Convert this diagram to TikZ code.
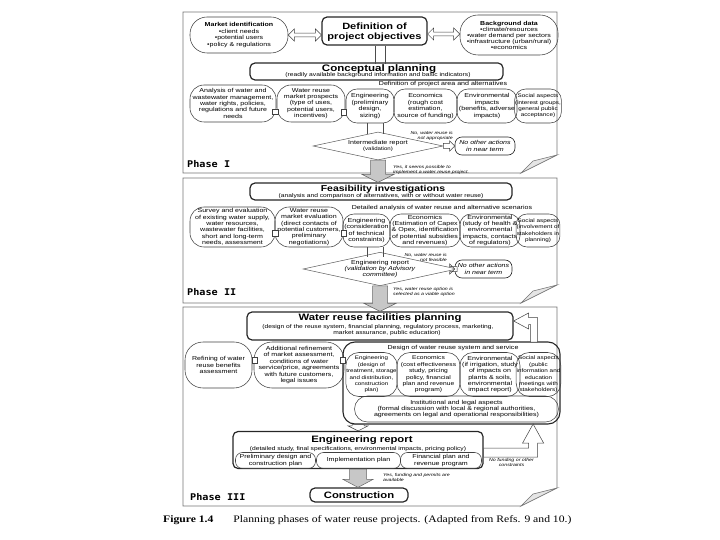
\documentclass[tikz,border=0pt]{standalone}
\usepackage{fontspec}
\setmainfont{Liberation Sans}[FakeStretch=1.22]
\newfontfamily\phasefont{DejaVu Sans Mono}[FakeStretch=1.1]
\newfontfamily\capfont{Liberation Serif}[FakeStretch=1.17]
\usetikzlibrary{shapes.geometric,calc}
\newcommand\tsm{\fontsize{5.8}{6.4}\selectfont}
\newcommand\tsoc{\fontsize{5.2}{6.4}\selectfont}
\newcommand\tsub{\fontsize{5.5}{6.2}\selectfont}
\newcommand\ttiny{\fontsize{4.3}{5}\selectfont\itshape}
\newcommand\ttl[1]{\fontsize{#1}{#1}\selectfont\bfseries}
% vertical (downward) block arrow: style, from, to, shaft half, head half, head length
\newcommand\vblock[6]{%
 \draw[#1] let \p1=(#2), \p2=(#3) in
  (\x1-#4,\y1) -- (\x1-#4,\y2+#6) -- (\x1-#5,\y2+#6) -- (\x1,\y2) -- (\x1+#5,\y2+#6) -- (\x1+#4,\y2+#6) -- (\x1+#4,\y1) -- cycle;}
% horizontal (rightward) block arrow
\newcommand\hblock[6]{%
 \draw[#1] let \p1=(#2), \p2=(#3) in
  (\x1,\y1+#4) -- (\x2-#6,\y1+#4) -- (\x2-#6,\y1+#5) -- (\x2,\y1) -- (\x2-#6,\y1-#5) -- (\x2-#6,\y1-#4) -- (\x1,\y1-#4) -- cycle;}
% horizontal double-headed block arrow
\newcommand\hdouble[6]{%
 \draw[#1] let \p1=(#2), \p2=(#3) in
  (\x1,\y1) -- (\x1+#6,\y1+#5) -- (\x1+#6,\y1+#4) -- (\x2-#6,\y1+#4) -- (\x2-#6,\y1+#5) -- (\x2,\y1) -- (\x2-#6,\y1-#5) -- (\x2-#6,\y1-#4) -- (\x1+#6,\y1-#4) -- (\x1+#6,\y1-#5) -- cycle;}
% phase panel with turned-up corner: top, bottom
\newcommand\panelbox[2]{%
 \draw[panel] (183,#1) -- (557,#1) -- (557,#2-18) -- (521,#2) -- (183,#2) -- cycle;
 \draw[panel, fill=black!10] (557,#2-18) -- (521,#2) -- (533,#2-12) -- cycle;}
\tikzset{
 panel/.style={draw=black!55, line width=0.6bp},
 mbox/.style={draw=black!85, line width=1.2bp, rounded corners=5bp, inner sep=0},
 ov/.style={draw=black!75, line width=0.55bp, rounded corners=11bp, inner sep=0.5bp, align=center, font=\tsm},
 sqr/.style={draw=black!75, line width=0.5bp, fill=white, minimum size=5.5bp, inner sep=0},
 dia/.style={diamond, aspect=4.6, draw=black!65, line width=0.5bp, inner sep=0, align=center, font=\tsm},
 noact/.style={draw=black!85, line width=0.6bp, rounded corners=7bp, align=center, font=\tsm\itshape, inner sep=0},
 lbl/.style={font=\ttiny, inner sep=0},
 gblk/.style={draw=black!60, line width=0.5bp, fill=black!22},
 hblk/.style={draw=black!75, line width=0.5bp, fill=white},
 conn/.style={draw=black!70, line width=0.5bp},
 phase/.style={font=\phasefont\bfseries\fontsize{9.3}{10}\selectfont, anchor=base west, inner sep=0},
 ttext/.style={anchor=base, inner sep=0},
}
\begin{document}
\begin{tikzpicture}[x=1bp,y=-1bp]
\useasboundingbox (0,0) rectangle (720,540);
\panelbox{12}{173}
\panelbox{178}{303}
\panelbox{307}{506}

% ================= Phase I =================
\node[ov, rounded corners=17bp, minimum width=98bp, minimum height=36bp] (market) at (239,35)
 {{\bfseries Market identification}\\•client needs\\•potential users\\•policy \& regulations};
\node[mbox, minimum width=105bp, minimum height=28bp] (def) at (374.5,31) {};
\node[ttext, font=\ttl{9.1}] (defA) at (374.5,30) {Definition of};
\node[ttext, font=\ttl{9.1}] (defB) at (374.5,40) {project objectives};
\node[ov, rounded corners=18bp, minimum width=98bp, minimum height=40bp, font=\fontsize{5.8}{6}\selectfont] (bg) at (509,35)
 {{\bfseries Background data}\\•climate/resources\\•water demand per sectors\\•infrastructure (urban/rural)\\•economics};
\hdouble{hblk}{market.east}{def.west}{1.8bp}{6bp}{6bp}
\hdouble{hblk}{[yshift=-3bp]def.east}{bg.west}{1.8bp}{6bp}{6bp}

\node[mbox, minimum width=253bp, minimum height=17bp] (concept) at (376.5,71.5) {};
\node[ttext, font=\ttl{9.5}] (conceptT) at (379,71.5) {Conceptual planning};
\node[ttext, font=\tsub] (conceptS) at (378,77) {(readily available background information and basic indicators)};
\draw[conn] ([xshift=0.5bp]def.south) -- ++(0,18);
\draw[conn] ([xshift=10.5bp]def.south) -- ++(0,18);

\node[ttext, font=\tsm] (areaT) at (443,86) {Definition of project area and alternatives};

\node[ov, minimum width=86bp, minimum height=37bp, rounded corners=14bp] (ana) at (233,103.5)
 {Analysis of water and\\wastewater management,\\water rights, policies,\\regulations and future\\needs};
\node[ov, minimum width=68bp, minimum height=37bp, rounded corners=14bp] (wrm) at (311,103.5)
 {Water reuse\\market prospects\\(type of uses,\\potential users,\\incentives)};
\node[ov, minimum width=48bp, minimum height=34bp] (eng1) at (370,106)
 {Engineering\\(preliminary\\design,\\sizing)};
\node[ov, minimum width=63bp, minimum height=34bp] (eco1) at (425.5,106)
 {Economics\\(rough cost\\estimation,\\source of funding)};
\node[ov, minimum width=60bp, minimum height=34bp] (env1) at (487,106)
 {Environmental\\impacts\\(benefits, adverse\\impacts)};
\node[ov, minimum width=42bp, minimum height=34bp, font=\tsoc] (soc1) at (538,106)
 {Social aspects\\(interest groups,\\general public\\acceptance)};
\node[sqr] (sq1a) at (275,112) {};
\node[sqr] (sq1b) at (343.5,112.5) {};

\node[dia, minimum width=130bp, minimum height=28bp] (ir) at (378,146)
 {Intermediate report\\{\fontsize{5}{6}\selectfont (validation)}};
\draw[conn] ([xshift=-3bp]eng1.south) -- ++(0,11);
\draw[conn] ([xshift=13bp]eng1.south) -- ++(0,11);
\node[noact, minimum width=60bp, minimum height=18bp] (no1) at (485,146) {No other actions\\in near term};
\hblock{hblk}{ir.east}{no1.west}{2.5bp}{5bp}{5bp}
\node[lbl, align=right, anchor=east] (nolbl1) at (453,135.5) {No, water reuse is\\not appropriate};
\node[lbl, align=left, anchor=west] (yeslbl1) at (393,170) {Yes, it seems possible to\\implement a water reuse project.};
\node[phase] (ph1) at (187,168) {Phase I};

% ================= Phase II =================
\node[mbox, minimum width=262bp, minimum height=17bp] (feas) at (381,191.5) {};
\node[ttext, font=\ttl{8.6}] (feasT) at (383,191.8) {Feasibility investigations};
\node[ttext, font=\tsub] (feasS) at (381,197.7) {(analysis and comparison of alternatives, with or without water reuse)};
\vblock{gblk}{ir.south}{feas.north}{7.5bp}{16bp}{8bp}

\node[ttext, font=\tsm] (detT) at (442,210) {Detailed analysis of water reuse and alternative scenarios};
\node[ov, minimum width=85bp, minimum height=40bp, rounded corners=14bp] (sur) at (232.5,227)
 {Survey and evaluation\\of existing water supply,\\water resources,\\wastewater facilities,\\short and long-term\\needs, assessment};
\node[ov, minimum width=68bp, minimum height=40bp, rounded corners=14bp] (wre) at (309,227)
 {Water reuse\\market evaluation\\(direct contacts of\\potential customers,\\preliminary\\negotiations)};
\node[ov, minimum width=47bp, minimum height=33bp] (eng2) at (366.5,230.5)
 {Engineering\\(consideration\\of technical\\constraints)};
\node[ov, minimum width=70bp, minimum height=33bp] (eco2) at (425,230.5)
 {Economics\\(Estimation of Capex\\\& Opex, identification\\of potential subsidies\\and revenues)};
\node[ov, minimum width=60bp, minimum height=33bp] (env2) at (490,230.5)
 {Environmental\\(study of health \&\\environmental\\impacts, contacts\\of regulators)};
\node[ov, minimum width=40bp, minimum height=33bp, font=\tsoc] (soc2) at (538,230.5)
 {Social aspects\\(involvement of\\stakeholders in\\planning)};
\node[sqr] (sq2a) at (275,233.5) {};
\node[sqr] (sq2b) at (343.5,233.5) {};

\node[dia, minimum width=134bp, minimum height=29bp] (er2) at (380,269)
 {Engineering report\\{\itshape (validation by Advisory}\\{\itshape committee)}};
\draw[conn] ([xshift=0.5bp]eng2.south) -- ++(0,10);
\draw[conn] ([xshift=16.5bp]eng2.south) -- ++(0,10);
\node[noact, minimum width=57bp, minimum height=18bp] (no2) at (483.5,269) {No other actions\\in near term};
\hblock{hblk}{er2.east}{no2.west}{2.5bp}{5bp}{5bp}
\node[lbl, align=right, anchor=east] (nolbl2) at (447,257) {No, water reuse is\\not feasible};
\node[lbl, align=left, anchor=west] (yeslbl2) at (393,292) {Yes, water reuse option is\\selected as a viable option};
\node[phase] (ph2) at (187,295) {Phase II};

% ================= Phase III =================
\node[mbox, minimum width=266bp, minimum height=28bp] (fac) at (380,326) {};
\node[ttext, font=\ttl{9.3}] (facT) at (380,320) {Water reuse facilities planning};
\node[ttext, font=\tsub] (facS1) at (378,328) {(design of the reuse system, financial planning, regulatory process, marketing,};
\node[ttext, font=\tsub] (facS2) at (387,334) {market assurance, public education)};
\vblock{gblk}{er2.south}{fac.north}{7.5bp}{16bp}{8bp}

\node[ov, minimum width=67bp, minimum height=46bp, rounded corners=18bp] (ref) at (218.5,365)
 {Refining of water\\reuse benefits\\assessment};
\node[ov, minimum width=90bp, minimum height=46bp, rounded corners=18bp] (add) at (299,365)
 {Additional refinement\\of market assessment,\\conditions of water\\service/price, agreements\\with future customers,\\legal issues};
\node[draw=black!85, line width=1.1bp, rounded corners=12bp, minimum width=217bp, minimum height=82bp, inner sep=0] (bigbox) at (451.5,383) {};
\node[ttext, font=\tsm] (desT) at (453,349) {Design of water reuse system and service};
\node[ov, minimum width=51bp, minimum height=44bp, rounded corners=13bp, font=\fontsize{5.1}{6.4}\selectfont] (eng3) at (371.5,374.5)
 {Engineering\\(design of\\treatment, storage\\and distribution,\\construction\\plan)};
\node[ov, minimum width=63bp, minimum height=44bp, rounded corners=13bp, font=\fontsize{5.5}{6.4}\selectfont] (eco3) at (428.5,374.5)
 {Economics\\(cost effectiveness\\study, pricing\\policy, financial\\plan and revenue\\program)};
\node[ov, minimum width=60bp, minimum height=44bp, rounded corners=13bp] (env3) at (490,374.5)
 {Environmental\\(if irrigation, study\\of impacts on\\plants \& soils,\\environmental\\impact report)};
\node[ov, minimum width=41bp, minimum height=44bp, rounded corners=13bp, font=\tsoc] (soc3) at (538.5,374.5)
 {Social aspects\\(public\\information and\\education\\meetings with\\stakeholders)};
\node[sqr] (sq3a) at (254.5,360) {};
\node[sqr] (sq3b) at (342.5,360) {};
\node[ov, minimum width=204bp, minimum height=26bp, rounded corners=13bp] (inst) at (456.5,409)
 {Institutional and legal aspects\\(formal discussion with local \& regional authorities,\\agreements on legal and operational responsibilities)};

\node[mbox, minimum width=250bp, minimum height=37bp] (er3) at (358,450) {};
\node[ttext, font=\ttl{9.3}] (er3T) at (362,442.5) {Engineering report};
\node[ttext, font=\tsub] (er3S) at (358,450) {(detailed study, final specifications, environmental impacts, pricing policy)};
\node[ov, minimum width=80bp, minimum height=16bp, rounded corners=7bp] (pd) at (275.5,460.5) {Preliminary design and\\construction plan};
\node[ov, minimum width=84bp, minimum height=16bp, rounded corners=7bp] (ip) at (358.5,460.5) {Implementation plan};
\node[ov, minimum width=81bp, minimum height=16bp, rounded corners=7bp] (fp) at (441,460.5) {Financial plan and\\revenue program};
\vblock{hblk}{bigbox.south -| er3.north}{er3.north}{6bp}{10bp}{5bp}

% feedback arrows
\draw[hblk] ([yshift=2bp]er3.east) -- ++(45,0) -- ++(0,-5) -- ++(-6,0) -- ++(10.5,-19)
 -- ++(10.5,19) -- ++(-6,0) -- ++(0,14) -- ++(-54,0) -- cycle;
\draw[hblk] ([yshift=5bp]fac.east) -- ++(15,-8) -- ++(0,4.5) -- ++(9,0) -- ++(0,24.5)
 -- ++(-7,0) -- ++(0,-17.5) -- ++(-2,0) -- ++(0,4.5) -- cycle;
\node[lbl, align=center] (nofund) at (511.5,462.5) {No funding or other\\constraints};

\node[mbox, minimum width=98bp, minimum height=14bp] (cons) at (359,495) {};
\node[ttext, font=\ttl{9.3}] (consT) at (359,498.5) {Construction};
\vblock{gblk}{er3.south}{cons.north}{8.5bp}{15bp}{8bp}
\node[lbl, align=left, anchor=west] (yeslbl3) at (383,477) {Yes, funding and permits are\\available};
\node[phase] (ph3) at (190,500) {Phase III};

% caption
\node[anchor=base west, inner sep=0, font=\capfont\fontsize{10}{12}\selectfont] (caption) at (163,522)
 {\textbf{Figure 1.4}\hspace{20bp}Planning phases of water reuse projects. (Adapted from Refs. 9 and 10.)};
\end{tikzpicture}
\end{document}
